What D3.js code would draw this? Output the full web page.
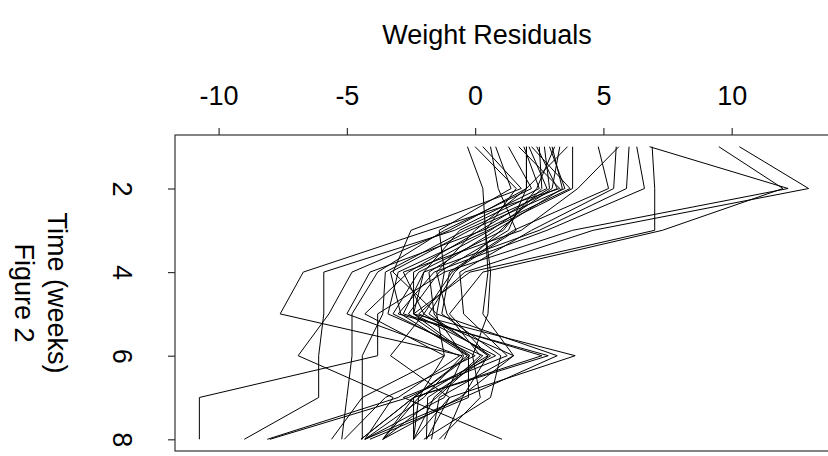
<!DOCTYPE html>
<html>
<head>
<meta charset="utf-8">
<script src="https://cdn.jsdelivr.net/npm/d3@7"></script>
<style>
  html, body { margin: 0; padding: 0; background: #fff; }
  svg { display: block; font-family: "Liberation Sans", Arial, Helvetica, sans-serif; }
</style>
</head>
<body>
<svg id="chart" width="828" height="456"></svg>
<script>
// Measurement weeks
const weeks = [1, 2, 3, 4, 5, 6, 7, 8];

// Weight residuals per animal, one value per week
const s01 = [9.5, 12.0, 7.3, 0.3, -1.0, 0.5, -0.5, -1.2];
const s02 = [10.3, 13.0, 4.6, -0.4, -2.2, 1.5, -1.4, -1.7];
const s03 = [6.8, 12.2, 3.8, -1.2, -1.5, 3.2, -0.45, -4.3];
const s04 = [6.9, 7.0, 7.0, -0.2, -2.4, 3.9, -1.0, -2.4];
const s05 = [6.3, 6.6, 2.8, -1.6, -3.0, 2.85, -2.4, -3.6];
const s06 = [6.0, 5.9, 2.5, -2.0, -2.8, 2.6, -2.4, -4.45];
const s07 = [5.6, 4.0, 1.8, -2.8, -2.0, 0.6, -1.85, -1.9];
const s08 = [5.5, 5.4, 2.2, -0.6, -0.45, 1.25, -2.8, 1.05];
const s09 = [4.8, 5.2, 1.5, -1.0, -1.3, 1.0, 0.6, -2.0];
const s10 = [3.8, 3.8, 0.5, -3.0, -3.4, 0.3, -1.5, -3.6];
const s11 = [3.6, 2.0, 1.3, -1.4, -2.6, -0.26, -0.26, -4.1];
const s12 = [3.3, 3.0, 0.6, -2.4, -2.4, -0.2, -2.4, -2.4];
const s13 = [3.1, 2.4, 1.1, -2.2, -3.2, 0.0, -3.5, -5.1];
const s14 = [3.0, 3.4, 0.8, -1.8, -1.6, -0.45, -1.2, -4.3];
const s15 = [2.9, 3.5, -0.2, -3.3, -2.9, -0.3, -2.4, -4.45];
const s16 = [2.7, 2.9, 0.2, -2.6, -4.3, -1.2, -4.4, -4.4];
const s17 = [2.5, 2.6, 1.0, -0.8, -1.8, 0.5, -2.2, -3.6];
const s18 = [2.4, 3.2, -0.4, -3.5, -3.6, -4.4, -4.4, -5.6];
const s19 = [2.2, 3.7, 0.3, -4.1, -5.0, -0.6, -3.0, -8.1];
const s20 = [2.1, 2.8, -0.6, -2.0, -2.4, 0.8, -2.6, -8.0];
const s21 = [2.0, 2.0, -1.0, -4.8, -5.7, -6.9, -3.2, -4.3];
const s22 = [2.0, 2.0, 0.0, -1.5, -1.1, 0.2, -1.6, -2.4];
const s23 = [1.9, 2.5, -0.8, -5.9, -5.9, -6.1, -6.1, -9.0];
const s24 = [1.7, 3.3, -1.8, -6.7, -7.6, -0.5, -2.0, -4.3];
const s25 = [1.3, 2.2, -1.2, -3.8, -4.8, -4.8, -5.0, -5.2];
const s26 = [0.8, 1.4, -1.4, -1.2, -3.8, -3.8, -10.75, -10.75];
const s27 = [0.6, 0.9, 1.6, -0.9, -2.0, -3.3, -1.0, -1.9];
const s28 = [0.3, 1.8, -2.5, -3.2, -1.5, -1.2, -2.2, -2.4];
const s29 = [0.0, 1.6, 0.4, 0.5, 0.3, 1.5, -0.6, -3.6];
const s30 = [-0.3, 0.3, 0.4, 0.6, 0.5, -0.1, 0.2, -1.4];

const residuals = [s01, s02, s03, s04, s05, s06, s07, s08, s09, s10,
                   s11, s12, s13, s14, s15, s16, s17, s18, s19, s20,
                   s21, s22, s23, s24, s25, s26, s27, s28, s29, s30];

// Axis ticks and labels
const xTicks = [-10, -5, 0, 5, 10];
const xTickLabels = ["-10", "-5", "0", "5", "10"];
const yTicks = [2, 4, 6, 8];
const yTickLabels = ["2", "4", "6", "8"];
const xTitle = "Weight Residuals";
const yTitle = "Time (weeks)";
const subTitle = "Figure 2";

const svg = d3.select("#chart");
const plotLeft = 175, plotRight = 833, plotTop = 135, plotBottom = 451;
const fontSize = 27;

// Pad the data ranges by 4% on each side
function padded(ext) {
  const r = ext[1] - ext[0];
  return [ext[0] - 0.04 * r, ext[1] + 0.04 * r];
}
const allVals = residuals.flat();
const x = d3.scaleLinear().domain(padded(d3.extent(allVals))).range([plotLeft, plotRight]);
const y = d3.scaleLinear().domain(padded(d3.extent(weeks))).range([plotTop, plotBottom]);

// Residual profiles: weeks run down the page, residuals across
const line = d3.line()
  .x(d => x(d[1]))
  .y(d => y(d[0]));

svg.append("g")
  .selectAll("path")
  .data(residuals)
  .join("path")
  .attr("d", vals => line(vals.map((v, i) => [weeks[i], v])))
  .attr("fill", "none")
  .attr("stroke", "#000")
  .attr("stroke-width", 1)
  .attr("stroke-linejoin", "miter");

// Plot frame
svg.append("rect")
  .attr("x", plotLeft).attr("y", plotTop)
  .attr("width", plotRight - plotLeft).attr("height", plotBottom - plotTop)
  .attr("fill", "none")
  .attr("stroke", "#333")
  .attr("stroke-width", 1.2);

// Top axis: residuals
const xAxis = svg.append("g")
  .attr("transform", `translate(0,${plotTop})`)
  .call(d3.axisTop(x)
    .tickValues(xTicks)
    .tickFormat((d, i) => xTickLabels[i])
    .tickSize(7)
    .tickSizeOuter(0)
    .tickPadding(23));
xAxis.select(".domain").remove();
xAxis.selectAll(".tick line").attr("stroke", "#333").attr("stroke-width", 1.2);
xAxis.selectAll(".tick text")
  .attr("font-size", fontSize)
  .attr("font-family", "Liberation Sans, Arial, sans-serif")
  .attr("fill", "#000");

// Left axis: time, labels turned to read downwards
const yAxis = svg.append("g")
  .attr("transform", `translate(${plotLeft},0)`)
  .call(d3.axisLeft(y)
    .tickValues(yTicks)
    .tickFormat((d, i) => yTickLabels[i])
    .tickSize(7)
    .tickSizeOuter(0));
yAxis.select(".domain").remove();
yAxis.selectAll(".tick line").attr("stroke", "#333").attr("stroke-width", 1.2);
yAxis.selectAll(".tick text")
  .attr("x", 0)
  .attr("y", 62)
  .attr("dy", null)
  .attr("text-anchor", "middle")
  .attr("transform", "rotate(90)")
  .attr("font-size", fontSize)
  .attr("font-family", "Liberation Sans, Arial, sans-serif")
  .attr("fill", "#000");

// Titles
svg.append("text")
  .attr("x", (plotLeft + plotRight) / 2 - 17)
  .attr("y", 44)
  .attr("text-anchor", "middle")
  .attr("font-size", fontSize)
  .text(xTitle);

const midY = (plotTop + plotBottom) / 2;
svg.append("text")
  .attr("transform", `translate(48,${midY}) rotate(90)`)
  .attr("text-anchor", "middle")
  .attr("font-size", fontSize)
  .text(yTitle);

svg.append("text")
  .attr("transform", `translate(15,${midY}) rotate(90)`)
  .attr("text-anchor", "middle")
  .attr("font-size", fontSize)
  .text(subTitle);
</script>
</body>
</html>
